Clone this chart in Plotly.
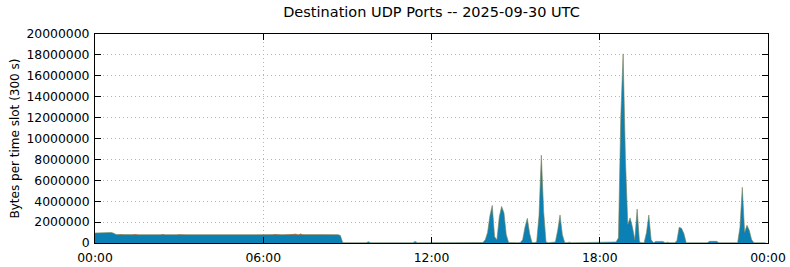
import plotly.graph_objects as go
import pandas as pd

# ---- data (in millions of bytes per 5-min slot) ----
SCALE = 1_000_000
slot_start = "2025-09-30 00:00"
n_slots = 288

udp_main_M = [
    # 00h
    0.95, 0.96, 0.95, 0.97, 1.00, 1.02, 1.01, 1.00, 0.93, 0.82, 0.81, 0.80,
    # 01h
    0.81, 0.80, 0.79, 0.80, 0.81, 0.80, 0.79, 0.80, 0.80, 0.79, 0.80, 0.81,
    # 02h
    0.80, 0.79, 0.79, 0.80, 0.80, 0.79, 0.80, 0.79, 0.78, 0.79, 0.80, 0.79,
    # 03h
    0.78, 0.79, 0.79, 0.78, 0.78, 0.79, 0.78, 0.78, 0.79, 0.78, 0.78, 0.79,
    # 04h
    0.78, 0.78, 0.78, 0.78, 0.79, 0.78, 0.78, 0.79, 0.78, 0.78, 0.79, 0.78,
    # 05h
    0.79, 0.78, 0.79, 0.79, 0.80, 0.79, 0.79, 0.80, 0.79, 0.80, 0.80, 0.79,
    # 06h
    0.80, 0.80, 0.79, 0.80, 0.81, 0.80, 0.80, 0.81, 0.80, 0.81, 0.80, 0.81,
    # 07h
    0.80, 0.81, 0.81, 0.80, 0.82, 0.81, 0.82, 0.83, 0.84, 0.83, 0.82, 0.82,
    # 08h
    0.82, 0.82, 0.82, 0.81, 0.82, 0.82, 0.81, 0.82, 0.80, 0.72, 0.04, 0.03,
    # 09h
    0.03, 0.03, 0.02, 0.03, 0.03, 0.03, 0.02, 0.03, 0.03, 0.12, 0.03, 0.03,
    # 10h
    0.03, 0.03, 0.03, 0.03, 0.03, 0.03, 0.03, 0.03, 0.03, 0.03, 0.03, 0.03,
    # 11h
    0.03, 0.03, 0.03, 0.03, 0.03, 0.15, 0.03, 0.03, 0.03, 0.03, 0.03, 0.03,
    # 12h
    0.02, 0.02, 0.02, 0.02, 0.02, 0.02, 0.02, 0.02, 0.02, 0.02, 0.02, 0.02,
    # 13h
    0.02, 0.02, 0.02, 0.02, 0.02, 0.02, 0.02, 0.02, 0.02, 0.02, 0.05, 0.30,
    # 14h
    1.00, 2.60, 3.60, 0.60, 0.30, 2.50, 3.50, 2.90, 0.80, 0.05, 0.03, 0.03,
    # 15h
    0.03, 0.03, 0.05, 0.30, 1.50, 2.36, 0.90, 0.05, 0.03, 0.10, 2.60, 8.40,
    # 16h
    3.00, 0.10, 0.03, 0.03, 0.03, 0.10, 1.20, 2.68, 0.80, 0.05, 0.03, 0.08,
    # 17h
    0.03, 0.03, 0.03, 0.03, 0.03, 0.03, 0.03, 0.03, 0.03, 0.03, 0.03, 0.03,
    # 18h
    0.03, 0.03, 0.03, 0.03, 0.03, 0.03, 0.03, 0.10, 0.50, 12.00, 18.10, 8.00,
    # 19h
    1.80, 2.40, 1.50, 0.30, 3.25, 0.10, 0.03, 0.03, 1.00, 2.68, 0.30, 0.03,
    # 20h
    0.15, 0.15, 0.15, 0.15, 0.03, 0.08, 0.03, 0.03, 0.03, 0.20, 1.50, 1.40,
    # 21h
    0.90, 0.02, 0.02, 0.02, 0.02, 0.02, 0.02, 0.02, 0.02, 0.02, 0.02, 0.16,
    # 22h
    0.16, 0.16, 0.16, 0.03, 0.03, 0.03, 0.03, 0.03, 0.03, 0.03, 0.03, 0.03,
    # 23h
    1.50, 5.33, 1.00, 1.70, 1.20, 0.30, 0.02, 0.02, 0.02, 0.02, 0.02, 0.02,
]

# small secondary series (reddish), only visible as specks on top of the early plateau
udp_other_slots = [6, 11, 17, 29, 36, 43, 62, 70, 77, 86, 88, 101]
udp_other_M = [0.05, 0.06, 0.05, 0.06, 0.05, 0.05, 0.06, 0.05, 0.06, 0.07, 0.08, 0.05]

title_text = "Destination UDP Ports -- 2025-09-30 UTC"
y_title = "Bytes per time slot (300 s)"
y_ticks = [0, 2000000, 4000000, 6000000, 8000000, 10000000, 12000000,
           14000000, 16000000, 18000000, 20000000]

# ---- build ----
times = pd.date_range(slot_start, periods=n_slots, freq="5min")
main_vals = [v * SCALE for v in udp_main_M]
other_vals = [0.0] * n_slots
for s, v in zip(udp_other_slots, udp_other_M):
    other_vals[s] = v * SCALE

BLUE = "#0a80b4"
OLIVE = "#7d8150"
RED = "#c4431e"
FONT = "DejaVu Sans"
GRID = "#b4b4b4"

fig = go.Figure()
fig.add_trace(go.Scatter(
    x=times, y=main_vals, mode="lines", stackgroup="one",
    line=dict(color=OLIVE, width=0.6), fillcolor=BLUE, hoverinfo="skip",
))
fig.add_trace(go.Scatter(
    x=times, y=other_vals, mode="lines", stackgroup="one",
    line=dict(color=RED, width=0), fillcolor=RED, hoverinfo="skip",
))

fig.update_layout(
    width=790, height=267,
    margin=dict(l=95, r=22, t=34, b=24, autoexpand=False),
    paper_bgcolor="white", plot_bgcolor="white",
    showlegend=False,
    font=dict(family=FONT, size=12, color="black"),
    title=dict(text=title_text, x=0.5462, xanchor="center", xref="container",
               y=1 - 12 / 267, yanchor="middle", yref="container",
               font=dict(family=FONT, size=14.5, color="black")),
)
fig.update_xaxes(
    type="date", automargin=False,
    range=["2025-09-30 00:00", "2025-10-01 00:00"],
    tickvals=pd.date_range("2025-09-30 00:00", periods=5, freq="6h"),
    tickformat="%H:%M",
    ticks="inside", ticklen=6, tickcolor="black", tickwidth=1,
    ticklabelstandoff=3,
    showline=True, linecolor="black", linewidth=1, mirror="ticks",
    showgrid=True, gridcolor=GRID, griddash="1px,3px", gridwidth=1,
    zeroline=False, tickfont=dict(family=FONT, size=12.4),
)
fig.update_yaxes(
    automargin=False,
    range=[0, 20000000],
    tickvals=y_ticks, tickformat="d",
    ticks="inside", ticklen=6, tickcolor="black", tickwidth=1,
    ticklabelstandoff=2,
    showline=True, linecolor="black", linewidth=1, mirror="ticks",
    showgrid=True, gridcolor=GRID, griddash="1px,3px", gridwidth=1,
    zeroline=False, tickfont=dict(family=FONT, size=12.4),
    title=dict(text=y_title, standoff=4, font=dict(family=FONT, size=12)),
)

fig.write_html("out.html")
